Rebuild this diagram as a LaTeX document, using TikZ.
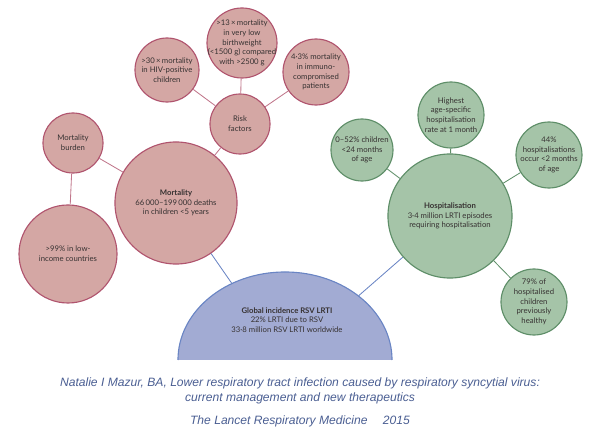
\documentclass[tikz,border=0pt]{standalone}
\usepackage{fontspec}
\setmainfont{Lato}
\newfontfamily\capfont{Liberation Sans}
\definecolor{mortfill}{RGB}{212,167,164}
\definecolor{mortline}{RGB}{176,84,110}
\definecolor{hospfill}{RGB}{165,196,168}
\definecolor{hospline}{RGB}{94,142,104}
\definecolor{globfill}{RGB}{162,171,211}
\definecolor{globline}{RGB}{106,133,196}
\definecolor{txtgray}{RGB}{55,50,50}
\definecolor{capblue}{RGB}{74,94,146}
\usetikzlibrary{shapes.geometric,positioning}

\begin{document}
\begin{tikzpicture}[x=0.025cm, y=-0.025cm,
    txt/.style={font=\fontsize{5.5}{6.9}\selectfont, align=center, text=txtgray, inner sep=0pt},
    mortbub/.style={circle, draw=mortline, line width=0.8pt, fill=mortfill, minimum size=#1, inner sep=0pt},
    hospbub/.style={circle, draw=hospline, line width=0.8pt, fill=hospfill, minimum size=#1, inner sep=0pt},
    mortlink/.style={draw=mortline!80, line width=0.6pt},
    hosplink/.style={draw=hospline, line width=0.6pt},
    globlink/.style={draw=globline, line width=0.6pt},
    captxt/.style={font=\capfont\itshape\fontsize{8.6}{11}\selectfont, text=capblue, align=center}
  ]
    \useasboundingbox (0,0) rectangle (600,445);

    % global incidence (half ellipse)
    \node[ellipse, minimum width=5.35cm, minimum height=4.4cm, inner sep=0pt] (glob) at (285,360) {};
    \fill[globfill] ([xshift=-2.675cm]glob.center) arc[start angle=180, end angle=0, x radius=2.675cm, y radius=2.2cm] -- cycle;
    \draw[globline, line width=0.8pt] ([xshift=-2.675cm]glob.center) arc[start angle=180, end angle=0, x radius=2.675cm, y radius=2.2cm];
    \node[txt] (globtxt) at (287,320) {\textbf{Global incidence RSV LRTI}\\22\% LRTI due to RSV\\33·8 million RSV LRTI worldwide};

    % mortality branch
    \node[mortbub=3.05cm, label={[txt]center:{\textbf{Mortality}\\66\,000–199\,000 deaths\\in children <5 years}}] (mort) at (176,203) {};
    \node[mortbub=1.5cm, label={[txt]center:{Mortality\\burden}}] (burden) at (73,143) {};
    \node[mortbub=2.45cm, label={[txt]center:{>99\% in low-\\income countries}}] (lowinc) at (68,254) {};
    \node[mortbub=1.5cm, label={[txt]center:{Risk\\factors}}] (risk) at (240,124) {};
    \node[mortbub=1.6cm, label={[txt]center:{>30\,×\,mortality\\in HIV-positive\\children}}] (hiv) at (167,70) {};
    \node[mortbub=1.75cm, label={[txt]center:{>13\,×\,mortality\\in very low\\birthweight\\(<1500 g) compared\\with >2500 g}}] (lbw) at (242,43) {};
    \node[mortbub=1.65cm, label={[txt]center:{4·3\% mortality\\in immuno-\\compromised\\patients}}] (immuno) at (316,72) {};

    % hospitalisation branch
    \node[hospbub=3.1cm, label={[txt]center:{\textbf{Hospitalisation}\\3·4 million LRTI episodes\\requiring hospitalisation}}] (hosp) at (450,216) {};
    \node[hospbub=1.65cm, label={[txt]center:{Highest\\age-specific\\hospitalisation\\rate at 1 month}}] (peak) at (451,115) {};
    \node[hospbub=1.55cm, label={[txt]center:{0–52\% children\\<24 months\\of age}}] (under2y) at (362,150) {};
    \node[hospbub=1.65cm, label={[txt]center:{44\%\\hospitalisations\\occur <2 months\\of age}}] (under2m) at (549,155) {};
    \node[hospbub=1.65cm, label={[txt]center:{79\% of\\hospitalised\\children\\previously\\healthy}}] (healthy) at (534,302) {};

    % connectors
    \draw[globlink] (glob) -- (mort);
    \draw[globlink] (glob) -- (hosp);
    \draw[mortlink] (mort) -- (burden);
    \draw[mortlink] (burden) -- (lowinc);
    \draw[mortlink] (mort) -- (risk);
    \draw[mortlink] (risk) -- (hiv);
    \draw[mortlink] (risk) -- (lbw);
    \draw[mortlink] (risk) -- (immuno);
    \draw[hosplink] (hosp) -- (peak);
    \draw[hosplink] (hosp) -- (under2y);
    \draw[hosplink] (hosp) -- (under2m);
    \draw[hosplink] (hosp) -- (healthy);

    % source
    \node[captxt] (cite) at (300,391) {Natalie I Mazur, BA, Lower respiratory tract infection caused by respiratory syncytial virus:\\current management and new therapeutics};
    \node[captxt, below=1pt of cite] (journal) {The Lancet Respiratory Medicine\quad\ 2015};
  \end{tikzpicture}
\end{document}
